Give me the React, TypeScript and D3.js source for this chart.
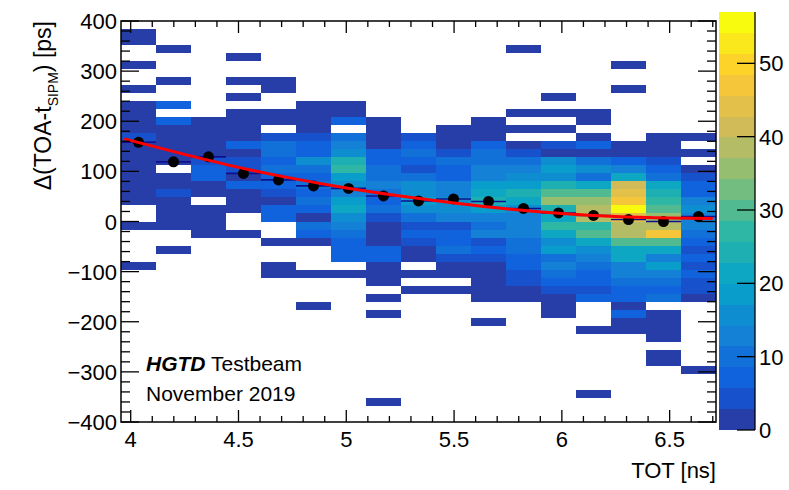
import React, { useEffect, useRef } from 'react';
import * as d3 from 'd3';

// histogram binning
const totRange = [3.955, 6.715];
const totBins = 17;
const dtRange = [-400, 400];
const dtBins = 50;

// counts per TOT bin, listed from the top dt bin (384..400 ps) downwards
const tot00 = [0,1,1,0,0,1,0,0,1,0, 1,2,1,2,5,2,1,2,1,2, 1,1,1,0,0,1,0,0,0,0, 1,0,0,0,0,0,0,0,0,0, 0,0,0,0,0,0,0,0,0,0];
const tot01 = [0,0,0,1,0,0,0,1,0,0, 6,0,6,2,1,2,1,2,0,2, 2,5,2,1,2,1,0,0,1,0, 0,0,0,0,0,0,0,0,0,0, 0,0,0,0,0,0,0,0,0,0];
const tot02 = [0,0,0,0,0,0,0,0,0,0, 0,0,1,1,2,1,2,3,7,7, 2,1,0,1,2,1,1,0,0,0, 0,0,0,0,0,0,0,0,0,0, 0,0,0,0,0,0,0,0,0,0];
const tot03 = [0,0,0,0,1,0,0,1,0,1, 0,1,1,2,2,6,2,5,3,2, 6,2,1,1,0,0,1,0,0,0, 0,0,0,0,0,0,0,0,0,0, 0,0,0,0,0,0,0,0,0,0];
const tot04 = [0,0,0,0,0,0,0,1,1,0, 0,1,2,0,4,9,10,7,9,7, 7,4,2,7,7,0,0,1,0,0, 1,1,0,0,0,0,0,0,0,0, 0,0,0,0,0,0,0,0,0,0];
const tot05 = [0,0,0,0,0,0,0,0,0,0, 1,1,2,1,3,7,7,15,10,7, 10,7,10,7,2,10,7,1,0,0, 0,1,0,0,0,1,0,0,0,0, 0,0,0,0,0,0,0,0,0,0];
const tot06 = [0,0,0,0,0,0,0,0,0,0, 1,2,7,0,10,13,17,24,26,19, 15,13,18,20,16,12,10,7,7,7, 0,1,0,0,0,0,0,0,0,0, 0,0,0,0,0,0,0,0,0,0];
const tot07 = [0,0,0,0,0,0,0,0,0,0, 0,0,1,2,2,2,6,7,9,10, 12,10,6,9,4,2,1,1,6,6, 2,1,1,0,1,0,1,0,0,0, 0,0,0,0,0,0,0,1,0,0];
const tot08 = [0,0,0,0,0,0,0,0,0,0, 0,0,0,0,3,7,10,8,4,10, 16,16,18,16,11,3,8,5,2,2, 0,1,0,1,0,0,0,0,0,0, 0,0,0,0,0,0,0,0,0,0];
const tot09 = [0,0,0,0,0,0,0,0,0,0, 0,0,0,1,2,2,3,10,8,8, 13,12,16,15,12,3,7,8,10,3, 2,1,0,1,0,0,0,0,0,0, 0,0,0,0,0,0,0,0,0,0];
const tot10 = [0,0,0,0,0,0,0,0,0,0, 0,0,1,2,2,8,10,10,12,14, 19,21,23,18,13,10,12,4,8,5, 2,2,1,1,1,0,0,1,0,0, 0,0,0,0,0,0,0,0,0,0];
const tot11 = [0,0,0,1,0,0,0,0,0,0, 0,1,0,1,0,2,5,10,13,16, 19,24,21,17,13,14,12,10,10,7, 6,4,3,2,1,0,0,0,0,0, 0,0,0,0,0,0,0,0,0,0];
const tot12 = [0,0,0,0,0,0,0,0,0,1, 0,1,0,1,0,5,2,15,19,16, 24,30,36,24,20,26,20,16,18,10, 12,9,7,5,1,1,1,0,0,0, 0,0,0,0,0,0,0,0,0,0];
const tot13 = [0,0,0,0,0,0,0,0,0,0, 0,1,1,0,1,7,2,10,16,10, 20,30,36,39,39,27,31,20,16,13, 10,7,7,4,7,0,0,0,1,0, 0,0,0,0,0,0,1,0,0,0];
const tot14 = [0,0,0,0,0,1,0,0,1,0, 0,0,0,0,0,2,2,8,13,20, 40,45,46,56,44,39,38,31,22,20, 14,12,10,7,8,2,7,2,1,0, 0,0,0,0,0,0,0,0,0,0];
const tot15 = [0,0,0,0,0,0,0,0,0,0, 0,0,0,0,2,1,2,3,7,10, 22,25,27,30,36,38,46,31,20,13, 18,12,10,7,9,0,1,1,1,1, 0,1,1,0,0,0,0,0,0,0];
const tot16 = [0,0,0,0,0,0,0,0,0,0, 0,0,0,0,1,0,1,0,1,3, 6,7,12,15,13,12,9,6,3,7, 4,6,5,4,2,0,0,0,0,0, 0,0,0,1,0,0,0,0,0,0];
const counts = [tot00, tot01, tot02, tot03, tot04, tot05, tot06, tot07, tot08, tot09, tot10, tot11, tot12, tot13, tot14, tot15, tot16];

// profile (mean dt per TOT bin)
const profileMean = [158, 119, 129, 96, 83, 71, 66, 51, 41, 45, 40, 26, 17, 12, 4, 0, 10];

// fit curve
const fitTot = [3.97, 4.25, 4.5, 4.75, 5, 5.25, 5.5, 5.75, 6, 6.25, 6.5, 6.7];
const fitDt = [165, 134, 108, 86, 67, 51, 37, 25, 16, 10, 7, 6];

const xTicks = [4, 4.5, 5, 5.5, 6, 6.5];
const yTicks = [-400, -300, -200, -100, 0, 100, 200, 300, 400];
const zTicks = [0, 10, 20, 30, 40, 50];
const zMax = 57;
const nContours = 20;

// ROOT kBird palette
const birdStops = [0, 0.125, 0.25, 0.375, 0.5, 0.625, 0.75, 0.875, 1];
const birdR = [0.2082, 0.0592, 0.078, 0.0232, 0.1802, 0.5301, 0.8186, 0.9956, 0.9764];
const birdG = [0.1664, 0.3599, 0.5041, 0.6419, 0.7178, 0.7492, 0.7328, 0.7862, 0.9832];
const birdB = [0.5293, 0.8684, 0.8385, 0.7914, 0.6425, 0.4662, 0.3499, 0.1968, 0.0539];

const FONT = "'Liberation Sans', Arial, Helvetica, sans-serif";

function bird(t: number) {
  const r = d3.scaleLinear().domain(birdStops).range(birdR).clamp(true);
  const g = d3.scaleLinear().domain(birdStops).range(birdG).clamp(true);
  const b = d3.scaleLinear().domain(birdStops).range(birdB).clamp(true);
  return d3.rgb(r(t) * 255, g(t) * 255, b(t) * 255).formatHex();
}

// same colour picking as THistPainter: level -> palette index
function levelColor(level: number) {
  const idx = Math.floor((level + 0.99) * 255 / nContours);
  return bird(idx / 254);
}

function colorFor(v: number) {
  const level = Math.min(nContours - 1, Math.floor(v * nContours / zMax));
  return levelColor(level);
}

export default function App() {
  const ref = useRef<SVGSVGElement>(null);

  useEffect(() => {
    const svg = d3.select(ref.current);
    svg.selectAll('*').remove();

    const left = 121, right = 716, top = 21, bottom = 422;
    const x = d3.scaleLinear().domain(totRange).range([left, right]);
    const y = d3.scaleLinear().domain(dtRange).range([bottom, top]);
    const z = d3.scaleLinear().domain([0, zMax]).range([430, 12]);
    const xw = (totRange[1] - totRange[0]) / totBins;
    const yh = (dtRange[1] - dtRange[0]) / dtBins;

    // cells
    const cells = svg.append('g').attr('shape-rendering', 'crispEdges');
    counts.forEach((col, i) => {
      const x0 = Math.round(x(totRange[0] + i * xw));
      const x1 = Math.round(x(totRange[0] + (i + 1) * xw));
      col.forEach((v, r) => {
        if (!v) return;
        const hi = dtRange[1] - r * yh;
        const y0 = Math.round(y(hi));
        const y1 = Math.round(y(hi - yh));
        cells.append('rect')
          .attr('x', x0).attr('y', y0)
          .attr('width', x1 - x0).attr('height', y1 - y0)
          .attr('fill', colorFor(v));
      });
    });

    // fit
    const line = d3.line<number>()
      .x((d, i) => x(fitTot[i]))
      .y(d => y(d))
      .curve(d3.curveMonotoneX);

    // profile error bars + markers
    const prof = svg.append('g');
    profileMean.forEach((m, i) => {
      prof.append('line')
        .attr('x1', x(totRange[0] + i * xw)).attr('x2', x(totRange[0] + (i + 1) * xw))
        .attr('y1', y(m)).attr('y2', y(m))
        .attr('stroke', '#10108f').attr('stroke-width', 1.6);
    });

    svg.append('path')
      .attr('d', line(fitDt))
      .attr('fill', 'none')
      .attr('stroke', '#ff0000')
      .attr('stroke-width', 3);

    profileMean.forEach((m, i) => {
      prof.append('circle')
        .attr('cx', x(totRange[0] + (i + 0.5) * xw))
        .attr('cy', y(m))
        .attr('r', 5.5)
        .attr('fill', '#000');
    });

    // frame
    svg.append('rect')
      .attr('x', left).attr('y', top)
      .attr('width', right - left).attr('height', bottom - top)
      .attr('fill', 'none').attr('stroke', '#000').attr('stroke-width', 1.5);

    const ticks = svg.append('g').attr('stroke', '#000').attr('stroke-width', 1.3);
    const xMinor = d3.range(40, 68).map(v => v / 10);
    xMinor.forEach(v => {
      const len = xTicks.includes(v) ? 12 : 6;
      ticks.append('line').attr('x1', x(v)).attr('x2', x(v)).attr('y1', bottom).attr('y2', bottom - len);
      ticks.append('line').attr('x1', x(v)).attr('x2', x(v)).attr('y1', top).attr('y2', top + len);
    });
    const yMinor = d3.range(-400, 401, 20);
    yMinor.forEach(v => {
      const len = yTicks.includes(v) ? 18 : 9;
      ticks.append('line').attr('x1', left).attr('x2', left + len).attr('y1', y(v)).attr('y2', y(v));
      ticks.append('line').attr('x1', right).attr('x2', right - len).attr('y1', y(v)).attr('y2', y(v));
    });

    const txt = svg.append('g').attr('font-family', FONT).attr('fill', '#000');

    xTicks.forEach(v => {
      txt.append('text').attr('x', x(v)).attr('y', 447)
        .attr('text-anchor', 'middle').attr('font-size', 22)
        .text(String(v));
    });
    yTicks.forEach(v => {
      txt.append('text').attr('x', 117).attr('y', y(v) + 8)
        .attr('text-anchor', 'end').attr('font-size', 22)
        .text(v < 0 ? '\u2212' + Math.abs(v) : String(v));
    });

    // axis titles
    txt.append('text').attr('x', right).attr('y', 478)
      .attr('text-anchor', 'end').attr('font-size', 22)
      .text('TOT [ns]');
    const yt = txt.append('text')
      .attr('transform', `translate(51,${top}) rotate(-90)`)
      .attr('text-anchor', 'end').attr('font-size', 23);
    yt.append('tspan').text('\u0394(TOA-t');
    yt.append('tspan').attr('dy', 7).attr('font-size', 14).text('SIPM');
    yt.append('tspan').attr('dy', -7).text(') [ps]');

    // labels
    const l1 = txt.append('text').attr('x', 146).attr('y', 371).attr('font-size', 21);
    l1.append('tspan').attr('font-weight', 'bold').attr('font-style', 'italic').text('HGTD');
    l1.append('tspan').text(' Testbeam');
    txt.append('text').attr('x', 146).attr('y', 401).attr('font-size', 21).text('November 2019');

    // palette
    const pal = svg.append('g').attr('shape-rendering', 'crispEdges');
    d3.range(nContours).forEach(l => {
      const z0 = Math.round(z(l * zMax / nContours));
      const z1 = Math.round(z((l + 1) * zMax / nContours));
      pal.append('rect')
        .attr('x', 719).attr('y', z1)
        .attr('width', 36).attr('height', z0 - z1)
        .attr('fill', levelColor(l));
    });
    svg.append('line').attr('x1', 755).attr('x2', 755).attr('y1', 12).attr('y2', 430)
      .attr('stroke', '#000').attr('stroke-width', 1.3);
    zTicks.forEach(v => {
      svg.append('line').attr('x1', 755).attr('x2', 737).attr('y1', z(v)).attr('y2', z(v))
        .attr('stroke', '#000').attr('stroke-width', 1.3);
      txt.append('text').attr('x', 759).attr('y', z(v) + 8)
        .attr('font-size', 22).text(String(v));
    });
  }, []);

  return (
    <svg ref={ref} width={789} height={490}
      style={{ position: 'absolute', left: 0, top: 0, background: '#fff' }} />
  );
}
